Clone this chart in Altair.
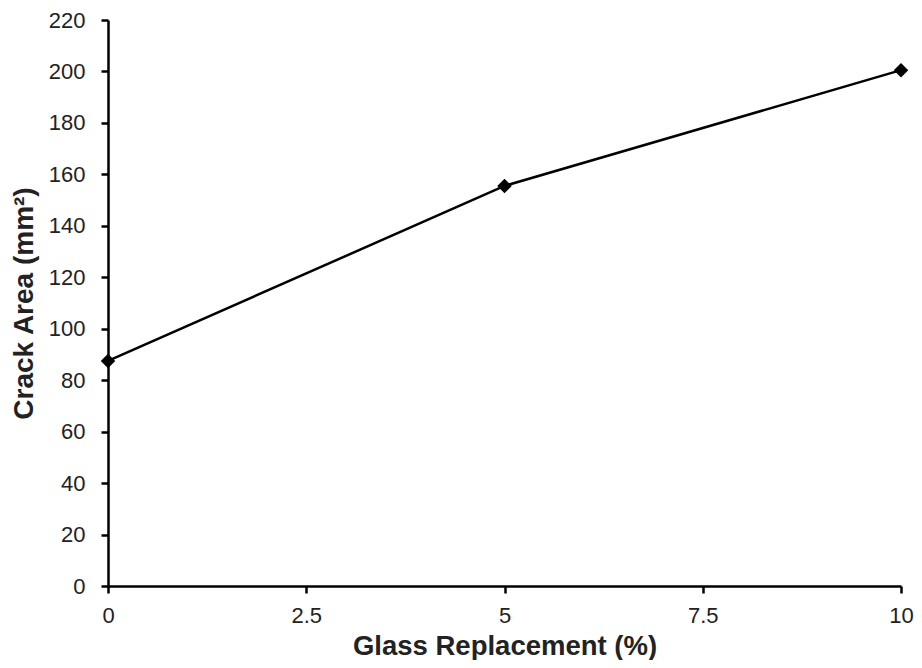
import altair as alt
import pandas as pd

glass = [0, 5, 10]
crack = [87.5, 155.5, 200.5]
x_ticks = [0, 2.5, 5, 7.5, 10]
y_ticks = list(range(0, 221, 20))

df = pd.DataFrame({"glass": glass, "crack": crack})

font = "Liberation Sans"
x = alt.X("glass:Q", scale=alt.Scale(domain=[0, 10], nice=False, zero=False),
          axis=alt.Axis(values=x_ticks, format=".1~f", title="Glass Replacement (%)", grid=False,
                        labelFontSize=22, titleFontSize=27.5, tickSize=7, labelPadding=12,
                        titlePadding=6, labelFont=font, titleFont=font, domainColor="black",
                        tickColor="black", labelColor="#222", titleColor="#222",
                        domainWidth=2.5, tickWidth=2.5, labelFlush=False))
y = alt.Y("crack:Q", scale=alt.Scale(domain=[0, 220], nice=False),
          axis=alt.Axis(values=y_ticks, title="Crack Area (mm²)", grid=False,
                        labelFontSize=22, titleFontSize=28, tickSize=7, labelPadding=16,
                        titlePadding=10, labelFont=font, titleFont=font, domainColor="black",
                        tickColor="black", labelColor="#222", titleColor="#222",
                        domainWidth=2.5, tickWidth=2.5))

line = alt.Chart(df).mark_line(color="black", strokeWidth=2.5).encode(x=x, y=y)
pts = alt.Chart(df).mark_point(shape="diamond", filled=True, color="black", size=210, opacity=1).encode(x=x, y=y)

chart = (line + pts).properties(
    width=793, height=566,
    autosize=alt.AutoSizeParams(type="none"),
    padding={"left": 100, "top": 12, "right": 13, "bottom": 74},
).configure_view(stroke=None)

chart.save("out.html", embed_options={"renderer": "svg", "actions": False})
